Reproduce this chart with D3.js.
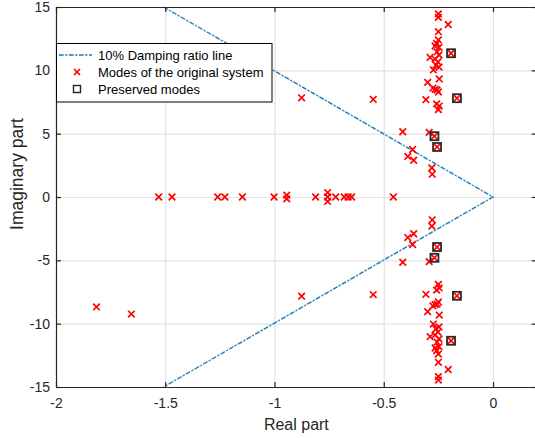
<!DOCTYPE html>
<html><head><meta charset="utf-8">
<script src="https://cdn.jsdelivr.net/npm/d3@7"></script>
<style>
html,body{margin:0;padding:0;background:#fff;}
svg{display:block;font-family:"Liberation Sans",Arial,sans-serif;}
</style></head>
<body>
<svg id="chart" width="535" height="438"></svg>
<script>
// ---- data ----
const xTicks = [-2, -1.5, -1, -0.5, 0];
const yTicks = [-15, -10, -5, 0, 5, 10, 15];
const xTickLabels = ["-2", "-1.5", "-1", "-0.5", "0"];
const yTickLabels = ["-15", "-10", "-5", "0", "5", "10", "15"];

// 10% damping ratio line
const dampX = [-1.5075, 0, -1.5075];
const dampY = [15, 0, -15];

// modes of the original system (real, imaginary)
const modeReal = [
  // far-left
  -1.815, -1.655, -0.876, -0.876, -0.548, -0.548,
  // real axis
  -1.530, -1.469, -1.260, -1.227, -1.147, -1.002, -0.944, -0.944,
  -0.812, -0.757, -0.757, -0.757, -0.720, -0.681, -0.663, -0.647, -0.456,
  // middle cluster
  -0.413, -0.413, -0.292, -0.292, -0.368, -0.368, -0.390, -0.390, -0.363, -0.363,
  -0.280, -0.280, -0.278, -0.278,
  // upper right cluster
  -0.250, -0.250, -0.205, -0.250, -0.250, -0.258, -0.265, -0.247, -0.288,
  -0.256, -0.247, -0.265, -0.252, -0.261, -0.247, -0.273, -0.246, -0.299,
  -0.275, -0.256, -0.250, -0.265, -0.307, -0.258, -0.246, -0.250,
  // lower right cluster
  -0.250, -0.250, -0.205, -0.250, -0.250, -0.258, -0.265, -0.247, -0.288,
  -0.256, -0.247, -0.265, -0.252, -0.261, -0.247, -0.273, -0.246, -0.299,
  -0.275, -0.256, -0.250, -0.265, -0.307, -0.258, -0.246, -0.250,
  // preserved (also original modes)
  -0.192, -0.192, -0.165, -0.165, -0.268, -0.268, -0.256, -0.256
];
const modeImag = [
  -8.68, -9.24, 7.83, -7.83, 7.70, -7.70,
  0, 0, 0, 0, 0, 0, 0.15, -0.15,
  0, 0.35, 0, -0.35, 0, 0, 0, 0, 0,
  5.15, -5.15, 5.10, -5.10, 3.75, -3.75, 3.20, -3.20, 2.90, -2.90,
  2.30, -2.30, 1.80, -1.80,
  14.45, 14.18, 13.62, 13.05, 12.40, 12.13, 11.92, 11.82, 11.03,
  11.45, 11.21, 10.89, 10.66, 10.42, 10.26, 10.03, 9.32, 9.05,
  8.60, 8.45, 8.29, 8.50, 7.68, 7.35, 7.18, 6.90,
  -14.45, -14.18, -13.62, -13.05, -12.40, -12.13, -11.92, -11.82, -11.03,
  -11.45, -11.21, -10.89, -10.66, -10.42, -10.26, -10.03, -9.32, -9.05,
  -8.60, -8.45, -8.29, -8.50, -7.68, -7.35, -7.18, -6.90,
  11.35, -11.35, 7.80, -7.80, 4.80, -4.80, 3.95, -3.95
];

// preserved modes
const presReal = [-0.192, -0.192, -0.165, -0.165, -0.268, -0.268, -0.256, -0.256];
const presImag = [11.35, -11.35, 7.80, -7.80, 4.80, -4.80, 3.95, -3.95];

const legendLabels = ["10% Damping ratio line", "Modes of the original system", "Preserved modes"];
const xLabel = "Real part";
const yLabel = "Imaginary part";

// ---- layout ----
const L = 56, R = 536.7, T = 7, B = 387;
const svg = d3.select("#chart");
const x = d3.scaleLinear().domain([-2, 0.2]).range([L, R]);
const y = d3.scaleLinear().domain([-15, 15]).range([B, T]);
const axisColor = "#262626";

// grid
const gx = svg.append("g").attr("transform", `translate(0,${B})`)
  .call(d3.axisBottom(x).tickValues(xTicks).tickSize(-(B - T)).tickFormat(""));
gx.select(".domain").remove();
gx.selectAll("line").attr("stroke", "#e3e3e3").attr("stroke-width", 1.2);
const gy = svg.append("g").attr("transform", `translate(${L},0)`)
  .call(d3.axisLeft(y).tickValues(yTicks).tickSize(-(R - L)).tickFormat(""));
gy.select(".domain").remove();
gy.selectAll("line").attr("stroke", "#e3e3e3").attr("stroke-width", 1.2);

// damping line
const dampPts = dampX.map((d, i) => [x(d), y(dampY[i])]);
const lineGen = d3.line();
svg.append("path").attr("d", lineGen(dampPts)).attr("fill", "none")
  .attr("stroke", "#5cc0a0").attr("stroke-width", 1.1).attr("stroke-dasharray", "1,1");
svg.append("path").attr("d", lineGen(dampPts)).attr("fill", "none")
  .attr("stroke", "#2a78c0").attr("stroke-width", 1.4).attr("stroke-dasharray", "4.5,2,1.5,2");

// x markers
const xs = 3.3;
function cross(g, cx, cy, s) {
  g.append("path").attr("d", `M${cx - s},${cy - s}L${cx + s},${cy + s}M${cx - s},${cy + s}L${cx + s},${cy - s}`)
    .attr("stroke", "#ff0000").attr("stroke-width", 1.7).attr("fill", "none");
}
const gm = svg.append("g");
modeReal.forEach((d, i) => cross(gm, x(d), y(modeImag[i]), xs));

// preserved squares
const sq = 4;
svg.append("g").selectAll("rect").data(presReal).join("rect")
  .attr("x", (d) => x(d) - sq).attr("y", (d, i) => y(presImag[i]) - sq)
  .attr("width", 2 * sq).attr("height", 2 * sq)
  .attr("fill", "none").attr("stroke", "#2a2a2a").attr("stroke-width", 1.8);

// axes with inward ticks
function styleAxis(g) {
  g.select(".domain").attr("stroke", axisColor).attr("stroke-width", 1.2);
  g.selectAll(".tick line").attr("stroke", axisColor).attr("stroke-width", 1.2);
  g.selectAll("text").attr("fill", axisColor).attr("font-size", 14)
    .attr("font-family", "Liberation Sans, Arial, sans-serif");
}
const ax = svg.append("g").attr("transform", `translate(0,${B})`)
  .call(d3.axisBottom(x).tickValues(xTicks).tickSizeInner(-5).tickSizeOuter(0).tickPadding(11)
    .tickFormat((d, i) => xTickLabels[i]));
styleAxis(ax);
const axT = svg.append("g").attr("transform", `translate(0,${T})`)
  .call(d3.axisTop(x).tickValues(xTicks).tickSizeInner(-5).tickSizeOuter(0).tickFormat(""));
styleAxis(axT);
const ay = svg.append("g").attr("transform", `translate(${L},0)`)
  .call(d3.axisLeft(y).tickValues(yTicks).tickSizeInner(-5).tickSizeOuter(0).tickPadding(6)
    .tickFormat((d, i) => yTickLabels[i]));
styleAxis(ay);
const ayR = svg.append("g").attr("transform", `translate(${R},0)`)
  .call(d3.axisRight(y).tickValues(yTicks).tickSizeInner(-5).tickSizeOuter(0).tickFormat(""));
styleAxis(ayR);

// axis labels
svg.append("text").attr("x", (L + R) / 2).attr("y", 430).attr("text-anchor", "middle")
  .attr("font-size", 16).attr("fill", axisColor).text(xLabel);
svg.append("text").attr("transform", "translate(23,174) rotate(-90)").attr("text-anchor", "middle")
  .attr("font-size", 17.5).attr("fill", axisColor).text(yLabel);

// legend
const lg = svg.append("g");
lg.append("rect").attr("x", 56.5).attr("y", 43.5).attr("width", 215.5).attr("height", 58.5)
  .attr("fill", "#fff").attr("stroke", "#000").attr("stroke-width", 1);
const rows = [55, 72, 89];
lg.append("line").attr("x1", 59).attr("x2", 92).attr("y1", rows[0]).attr("y2", rows[0])
  .attr("stroke", "#5cc0a0").attr("stroke-width", 1.1).attr("stroke-dasharray", "1,1");
lg.append("line").attr("x1", 59).attr("x2", 92).attr("y1", rows[0]).attr("y2", rows[0])
  .attr("stroke", "#2a78c0").attr("stroke-width", 1.4).attr("stroke-dasharray", "4.5,2,1.5,2");
cross(lg, 77, rows[1], 3);
lg.append("rect").attr("x", 73.5).attr("y", rows[2] - 3.5).attr("width", 7).attr("height", 7)
  .attr("fill", "none").attr("stroke", "#222").attr("stroke-width", 1.4);
legendLabels.forEach((t, i) => {
  lg.append("text").attr("x", 98).attr("y", rows[i] + 4.7).attr("font-size", 13)
    .attr("fill", "#000").text(t);
});
</script>
</body></html>
